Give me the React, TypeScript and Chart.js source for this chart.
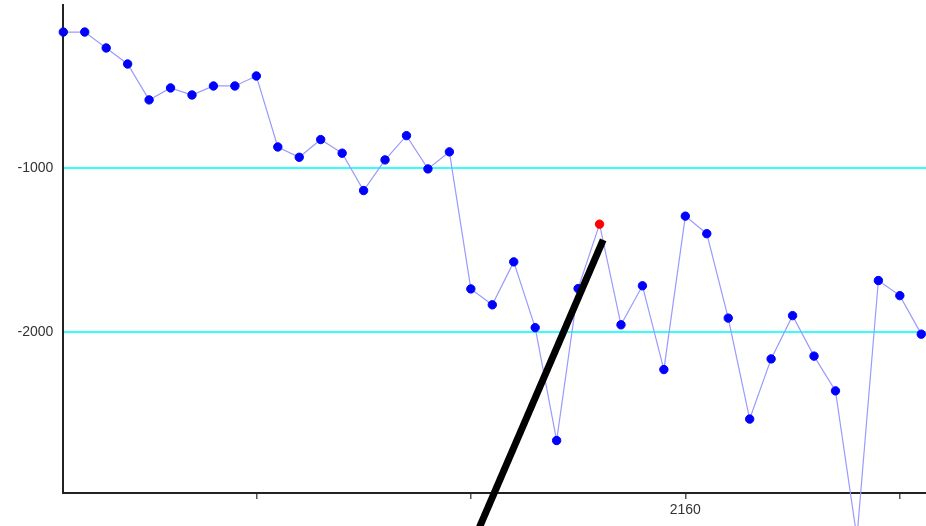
import React, { useEffect, useRef } from "react";
import { Chart, registerables } from "chart.js";

Chart.register(...registerables);

const xValues = [
  2131, 2132, 2133, 2134, 2135, 2136, 2137, 2138, 2139, 2140,
  2141, 2142, 2143, 2144, 2145, 2146, 2147, 2148, 2149, 2150,
  2151, 2152, 2153, 2154, 2155, 2156, 2157, 2158, 2159, 2160,
  2161, 2162, 2163, 2164, 2165, 2166, 2167, 2168, 2169, 2170, 2171,
];

const yValues = [
  -168, -168, -265, -363, -582, -509, -552, -497, -497, -436,
  -869, -932, -824, -907, -1135, -948, -800, -1003, -899, -1735,
  -1832, -1570, -1971, -2660, -1733, -1340, -1954, -1716, -2227, -1291,
  -1398, -1913, -2529, -2162, -1898, -2145, -2357, -3253, -1684, -1776, -2011,
];

const highlightIndex = 25;

const trendX = [2156.17, 2149.75];
const trendY = [-1436, -3387];

const xTicks = [2140, 2150, 2160, 2170];
const xLabelled = [2160];
const yTicks = [-1000, -2000];

export default function App() {
  const ref = useRef<HTMLCanvasElement | null>(null);

  useEffect(() => {
    if (!ref.current) return;
    const points = xValues.map((x, i) => ({ x, y: yValues[i] }));
    const trend = trendX.map((x, i) => ({ x, y: trendY[i] }));
    const colors = xValues.map((_, i) => (i === highlightIndex ? "#ff0000" : "#0000ff"));

    const chart = new Chart(ref.current, {
      type: "line",
      data: {
        datasets: [
          {
            data: trend,
            borderColor: "#000000",
            borderWidth: 7,
            pointRadius: 0,
            borderCapStyle: "butt",
            clip: false as any,
          },
          {
            data: points,
            borderColor: "#9a9aff",
            borderWidth: 1.2,
            pointRadius: 4.2,
            pointBorderWidth: 1,
            pointBackgroundColor: colors,
            pointBorderColor: colors,
            tension: 0,
            clip: false as any,
          },
        ],
      },
      options: {
        animation: false,
        responsive: false,
        devicePixelRatio: 1,
        layout: { padding: { top: 4.5, left: 0, right: 0, bottom: 0 }, autoPadding: false },
        plugins: { legend: { display: false }, tooltip: { enabled: false } },
        font: { family: "'Liberation Sans', Arial, sans-serif", size: 14 },
        scales: {
          x: {
            type: "linear",
            min: 2131,
            max: 2171.22,
            afterFit: (s: any) => {
              s.height = 33;
              s.paddingLeft = 0;
              s.paddingRight = 0;
            },
            afterBuildTicks: (s: any) => {
              s.ticks = xTicks.map((v) => ({ value: v }));
            },
            ticks: {
              autoSkip: false,
              maxRotation: 0,
              padding: 3,
              color: "#333333",
              font: { family: "'Liberation Sans', Arial, sans-serif", size: 14 },
              callback: (v: any) => (xLabelled.includes(Number(v)) ? String(v) : ""),
            },
            grid: {
              drawOnChartArea: false,
              drawTicks: true,
              tickLength: 6,
              color: "#555555",
              lineWidth: 1.5,
            },
            border: { display: true, color: "#222222", width: 2 },
          },
          y: {
            type: "linear",
            min: -2980,
            max: 0,
            afterFit: (s: any) => {
              s.width = 63.3;
              s.paddingTop = 0;
              s.paddingBottom = 0;
            },
            afterBuildTicks: (s: any) => {
              s.ticks = yTicks.map((v) => ({ value: v }));
            },
            ticks: {
              padding: 10,
              color: "#333333",
              font: { family: "'Liberation Sans', Arial, sans-serif", size: 14 },
              callback: (v: any) => String(v),
            },
            grid: {
              drawTicks: false,
              color: "#33ffff",
              lineWidth: 2,
            },
            border: { display: true, color: "#222222", width: 2 },
          },
        },
      },
    } as any);
    return () => chart.destroy();
  }, []);

  return (
    <div style={{ position: "fixed", left: 0, top: 0, width: 926, height: 526, background: "#ffffff" }}>
      <canvas ref={ref} width={926} height={526} style={{ display: "block" }} />
    </div>
  );
}
